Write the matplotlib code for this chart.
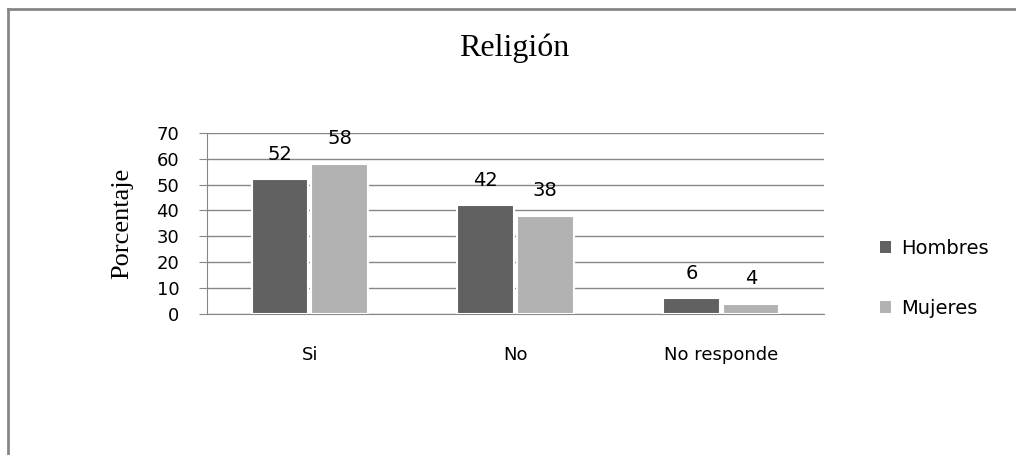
import numpy as np
import matplotlib.pyplot as plt
from matplotlib.lines import Line2D
from matplotlib.patches import Patch

categorias = ["Si", "No", "No responde"]
hombres = [52, 42, 6]
mujeres = [58, 38, 4]
series = ["Hombres", "Mujeres"]
y_ticks = [0, 10, 20, 30, 40, 50, 60, 70]

c_hombres = "#616161"
c_mujeres = "#b2b2b2"
c_gris = "#878787"

fig = plt.figure(figsize=(10.16, 4.55), dpi=100)
ax = fig.add_axes([0.2037, 0.3099, 0.6073, 0.3984])

x = np.arange(len(categorias))
ancho = 0.275
desp = 0.145

b1 = ax.bar(x - desp, hombres, ancho, color=c_hombres, edgecolor="white", linewidth=1.5, zorder=3)
b2 = ax.bar(x + desp, mujeres, ancho, color=c_mujeres, edgecolor="white", linewidth=1.5, zorder=3)

# etiquetas de valor encima de cada barra
for barras, valores in [(b1, hombres), (b2, mujeres)]:
    for b, v in zip(barras, valores):
        ax.annotate(str(v), (b.get_x() + b.get_width() / 2, v),
                    xytext=(0, 18), textcoords="offset points",
                    ha="center", va="center", fontsize=14, color="black")

ax.set_xlim(-0.5, 2.5)
ax.set_ylim(0, 70)
ax.set_yticks(y_ticks)
ax.set_yticklabels([str(t) for t in y_ticks], fontsize=13)
ax.set_xticks(x)
ax.set_xticklabels(categorias, fontsize=13)

ax.grid(axis="y", color=c_gris, linewidth=1, zorder=0)
ax.set_axisbelow(True)
for s in ["top", "right"]:
    ax.spines[s].set_visible(False)
ax.spines["left"].set_color(c_gris)
ax.spines["bottom"].set_color(c_gris)
ax.tick_params(axis="y", length=6, color=c_gris, pad=14)
ax.tick_params(axis="x", length=0, pad=23)

ax.set_ylabel("Porcentaje", family="Liberation Serif", fontsize=19, labelpad=17)

fig.text(0.506, 0.893, "Religión", family="Liberation Serif", fontsize=23,
         ha="center", va="center")

# leyenda
handles = [Patch(facecolor=c_hombres), Patch(facecolor=c_mujeres)]
fig.legend(handles, series, loc="center left", bbox_to_anchor=(0.857, 0.388),
           frameon=False, fontsize=14, handlelength=0.55, handleheight=0.55,
           handletextpad=0.5, labelspacing=2.1, borderpad=0)

# marco del grafico (solo borde superior e izquierdo visibles)
fig.add_artist(Line2D([0.008, 1.0], [0.980, 0.980], color=c_gris, linewidth=2,
                      transform=fig.transFigure))
fig.add_artist(Line2D([0.008, 0.008], [0.0, 0.980], color=c_gris, linewidth=2,
                      transform=fig.transFigure))

fig.savefig("out.png", dpi=100)
